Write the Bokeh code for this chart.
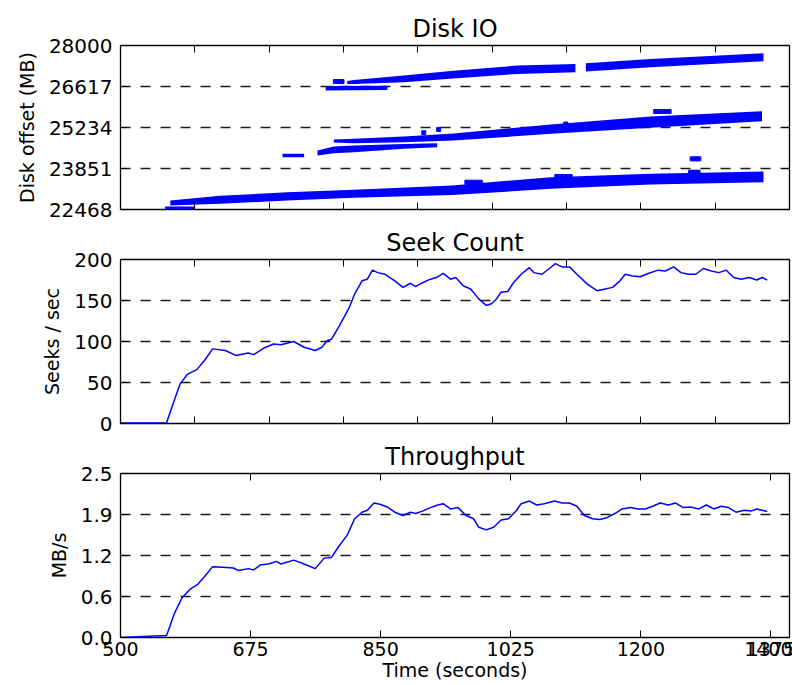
from bokeh.plotting import figure
from bokeh.layouts import column
from bokeh.models import FixedTicker, Range1d, LinearAxis
from bokeh.embed import file_html
from bokeh.resources import INLINE

# ---------------- data ----------------
x_range_vals = (500, 1400)
top_xticks = [600, 700, 800, 900, 1000, 1100, 1200, 1300]
bottom_xticks = [500, 675, 850, 1025, 1200, 1375, 1400]

disk_yticks = [22468, 23851, 25234, 26617, 28000]
seek_yticks = [0, 50, 100, 150, 200]
thr_yticks = [0, 0.625, 1.25, 1.875, 2.5]
thr_ylabels = ["0.0", "0.6", "1.2", "1.9", "2.5"]

# Disk IO bands of requests (time, lower offset, upper offset)
b1s_t = [560, 600]
b1s_lo = [22468, 22468]
b1s_hi = [22570, 22570]

b1_t = [567, 634, 724, 814, 946, 1079, 1213, 1365]
b1_lo = [22603, 22659, 22771, 22861, 22957, 23165, 23311, 23390]
b1_hi = [22771, 22929, 23052, 23131, 23278, 23558, 23670, 23749]

b2s_t = [718, 747]
b2s_lo = [24233, 24233]
b2s_hi = [24345, 24345]

b2a_t = [765, 787, 814, 881, 926]
b2a_lo = [24289, 24368, 24401, 24520, 24570]
b2a_hi = [24457, 24592, 24626, 24680, 24700]

b2b_t = [787, 814, 881, 948, 1079, 1213, 1363]
b2b_lo = [24730, 24705, 24738, 24795, 25020, 25222, 25447]
b2b_hi = [24830, 24851, 24930, 25030, 25334, 25604, 25784]

b3s_t = [776, 859]
b3s_lo = [26481, 26500]
b3s_hi = [26630, 26640]

b3a_t = [805, 814, 881, 948, 1034, 1112]
b3a_lo = [26700, 26705, 26762, 26890, 27042, 27099]
b3a_hi = [26800, 26840, 26986, 27150, 27324, 27380]

b3b_t = [1126, 1213, 1365]
b3b_lo = [27120, 27267, 27470]
b3b_hi = [27400, 27548, 27739]

stray_t = [789, 794, 798, 966, 972, 978, 984, 1087, 1093, 1099, 1105, 1269, 1274, 1278,
           1267, 1272, 1277, 1220, 1226, 1232, 1238, 1099, 908, 928]
stray_v = [26784, 26784, 26784, 23390, 23390, 23390, 23390, 23581, 23581, 23581, 23581,
           24176, 24176, 24176, 23727, 23727, 23727, 25773, 25773, 25773, 25773, 25350,
           25060, 25170]

# Seek count
seek_t = [500, 562, 573, 580, 590, 603, 614, 624, 641, 655, 672, 679, 693, 706, 716, 733, 747, 762,
          771, 778, 784, 793, 801, 808, 815, 825, 832, 839, 846, 856, 869, 880, 890, 897, 907, 917,
          925, 934, 944, 951, 961, 971, 982, 992, 999, 1005, 1012, 1021, 1029, 1039, 1050, 1056,
          1067, 1077, 1085, 1094, 1104, 1114, 1128, 1141, 1152, 1162, 1172, 1179, 1189, 1199,
          1210, 1223, 1233, 1244, 1254, 1264, 1274, 1284, 1295, 1305, 1315, 1325, 1335, 1346,
          1356, 1363, 1370]
seek_v = [0.5, 1, 30, 48, 60, 66, 78, 91, 89, 83, 86, 84, 92, 97, 96, 100, 93, 89,
          93, 101, 103, 117, 130, 142, 158, 174, 176, 187, 184, 182, 174, 166, 171, 167, 172, 176,
          178, 183, 176, 178, 168, 164, 152, 144, 146, 151, 160, 161, 172, 182, 190, 184,
          182, 189, 195, 191, 191, 182, 170, 162, 164, 166, 174, 182, 180, 179,
          183, 187, 186, 191, 184, 182, 182, 189, 186, 184, 187, 178, 176, 178,
          175, 178, 175]

# Throughput
thr_t = [500, 562, 573, 583, 594, 604, 614, 624, 638, 652, 659, 672, 679, 689, 699, 710, 716,
         733, 747, 762, 774, 784, 793, 805, 815, 825, 832, 841, 849, 859, 869, 880, 890, 897,
         907, 917, 927, 934, 944, 954, 965, 975, 982, 992, 1002, 1012, 1022, 1033, 1039, 1050,
         1060, 1070, 1084, 1094, 1104, 1114, 1124, 1135, 1145, 1155, 1165, 1175, 1186, 1196,
         1206, 1216, 1226, 1237, 1247, 1257, 1267, 1278, 1288, 1298, 1308, 1318, 1328, 1339,
         1349, 1356, 1363, 1370]
thr_v = [0.0, 0.03, 0.38, 0.61, 0.74, 0.81, 0.94, 1.08, 1.07, 1.06, 1.02, 1.05, 1.03, 1.11, 1.12, 1.16, 1.12,
         1.18, 1.12, 1.05, 1.21, 1.22, 1.38, 1.56, 1.81, 1.91, 1.94, 2.05, 2.03, 1.99, 1.91, 1.86, 1.91, 1.89,
         1.93, 1.98, 2.02, 2.04, 1.96, 1.98, 1.86, 1.81, 1.68, 1.64, 1.68, 1.79, 1.81, 1.94, 2.04, 2.08,
         2.02, 2.04, 2.08, 2.05, 2.05, 2.00, 1.86, 1.81, 1.80, 1.83, 1.89, 1.96, 1.98, 1.96,
         1.96, 2.00, 2.05, 2.02, 2.05, 1.98, 1.99, 1.96, 2.02, 1.96, 2.00, 1.98, 1.91, 1.94,
         1.93, 1.96, 1.94, 1.92]

BLUE = "#0000ff"
FONT = "DejaVu Sans"


def hide_labels(ax):
    ax.major_label_text_color = None
    ax.major_label_text_font_size = "1px"
    ax.major_label_standoff = 0


def make_fig(height, top, bottom, yr, yticks, ylabels, xticks, show_xlabels, title, ylabel):
    p = figure(width=792, height=height, x_range=Range1d(*x_range_vals), y_range=Range1d(*yr),
               output_backend="svg", toolbar_location=None, title=title,
               min_border_left=120, min_border_right=3, min_border_top=top, min_border_bottom=bottom)
    p.background_fill_color = "white"
    p.border_fill_color = "white"
    p.outline_line_color = "black"
    p.outline_line_width = 1.3
    p.outline_line_alpha = 1.0

    p.title.text_font = FONT
    p.title.text_font_size = "24px"
    p.title.text_font_style = "normal"
    p.title.text_color = "black"
    p.title.align = "center"
    p.title.standoff = 5

    xt = FixedTicker(ticks=xticks)
    yt = FixedTicker(ticks=yticks)

    xa = p.xaxis[0]
    xa.ticker = xt
    xa.major_tick_in = 7
    xa.major_tick_out = 0
    xa.minor_tick_line_color = None
    xa.axis_line_color = "black"
    xa.major_tick_line_color = "black"
    xa.major_label_text_font = FONT
    xa.major_label_text_color = "black"
    if show_xlabels:
        xa.major_label_text_font_size = "19px"
        xa.major_label_standoff = 4
        xa.axis_label = "Time (seconds)"
        xa.axis_label_text_font = FONT
        xa.axis_label_text_font_size = "19px"
        xa.axis_label_text_font_style = "normal"
        xa.axis_label_text_color = "black"
        xa.axis_label_standoff = 0
    else:
        hide_labels(xa)

    ya = p.yaxis[0]
    ya.ticker = yt
    ya.major_tick_in = 7
    ya.major_tick_out = 0
    ya.minor_tick_line_color = None
    ya.axis_line_color = "black"
    ya.major_tick_line_color = "black"
    ya.major_label_text_font = FONT
    ya.major_label_text_font_size = "20px"
    ya.major_label_text_color = "black"
    ya.major_label_standoff = 8
    ya.major_label_overrides = {t: l for t, l in zip(yticks, ylabels)}
    ya.axis_label = ylabel
    ya.axis_label_text_font = FONT
    ya.axis_label_text_font_size = "19px"
    ya.axis_label_text_font_style = "normal"
    ya.axis_label_text_color = "black"
    ya.axis_label_standoff = 8

    top_ax = LinearAxis(ticker=FixedTicker(ticks=xticks), major_tick_in=7, major_tick_out=0,
                        minor_tick_line_color=None, axis_line_color=None,
                        major_tick_line_color="black")
    hide_labels(top_ax)
    p.add_layout(top_ax, "above")
    right_ax = LinearAxis(ticker=FixedTicker(ticks=yticks), major_tick_in=7, major_tick_out=0,
                          minor_tick_line_color=None, axis_line_color=None,
                          major_tick_line_color="black")
    hide_labels(right_ax)
    p.add_layout(right_ax, "right")

    p.xgrid.visible = False
    p.ygrid.ticker = yt
    p.ygrid.grid_line_color = "#1a1a1a"
    p.ygrid.grid_line_width = 1.5
    p.ygrid.grid_line_dash = "10 10"
    return p


p1 = make_fig(221, 45, 12, (22468, 28000), disk_yticks, [str(v) for v in disk_yticks],
              top_xticks, False, "Disk IO", "Disk offset (MB)")
for t, lo, hi in [(b1_t, b1_lo, b1_hi), (b1s_t, b1s_lo, b1s_hi), (b2s_t, b2s_lo, b2s_hi),
                  (b2a_t, b2a_lo, b2a_hi), (b2b_t, b2b_lo, b2b_hi), (b3s_t, b3s_lo, b3s_hi),
                  (b3a_t, b3a_lo, b3a_hi), (b3b_t, b3b_lo, b3b_hi)]:
    p1.varea(x=t, y1=lo, y2=hi, fill_color=BLUE, fill_alpha=1.0)
p1.scatter(stray_t, stray_v, marker="square", size=4, color=BLUE)

p2 = make_fig(216, 38, 14, (0, 200), seek_yticks, [str(v) for v in seek_yticks],
              top_xticks, False, "Seek Count", "Seeks / sec")
p2.line(seek_t, seek_v, line_color=BLUE, line_width=1.5)

p3 = make_fig(248, 36, 48, (0, 2.5), thr_yticks, thr_ylabels,
              bottom_xticks, True, "Throughput", "MB/s")
p3.line(thr_t, thr_v, line_color=BLUE, line_width=1.5)

layout = column(p1, p2, p3, spacing=0)
open("out.html", "w").write(file_html(layout, INLINE))
